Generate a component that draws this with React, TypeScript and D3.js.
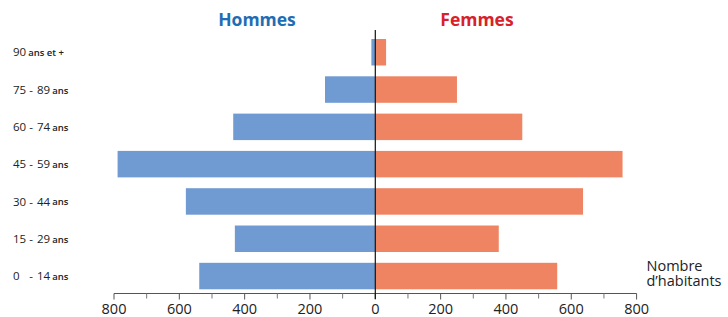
import React from "react";
import * as d3 from "d3";

const categories = ["90 ans et +", "75 - 89 ans", "60 - 74 ans", "45 - 59 ans", "30 - 44 ans", "15 - 29 ans", "0 - 14 ans"];
const labelFirst = ["90", "75", "60", "45", "30", "15", "0"];
const labelSecond = ["", "89", "74", "59", "44", "29", "14"];
const hommes = [12, 154, 435, 789, 580, 430, 539];
const femmes = [33, 250, 450, 757, 636, 378, 557];
const majorTicks = [-800, -600, -400, -200, 0, 200, 400, 600, 800];
const minorTicks = [-700, -500, -300, -100, 100, 300, 500, 700];

const W = 728;
const H = 317;
const FONT = "'Open Sans', 'Noto Sans', sans-serif";

export default function App() {
  const x = d3.scaleLinear().domain([-800, 800]).range([114, 636.6]);
  const y = d3
    .scaleBand<string>()
    .domain(categories)
    .range([33.6, 294.7])
    .paddingInner(0.29)
    .paddingOuter(0.145);
  const axisY = 293.5;
  const bw = y.bandwidth();

  return (
    <svg
      width={W}
      height={H}
      style={{ position: "absolute", left: 0, top: 0, background: "#fff" }}
      fontFamily={FONT}
    >
      <rect x={0} y={0} width={W} height={H} fill="#fff" />
      <text x={257} y={26} textAnchor="middle" fontSize={17.5} fontWeight={700} fill="#1f6db4">
        Hommes
      </text>
      <text x={477} y={26} textAnchor="middle" fontSize={17.5} fontWeight={700} fill="#d8212b">
        Femmes
      </text>

      {categories.map((c, i) => (
        <g key={c}>
          <rect
            x={x(-hommes[i])}
            y={y(c)}
            width={x(0) - x(-hommes[i])}
            height={bw}
            fill="#6f9bd2"
          />
          <rect x={x(0)} y={y(c)} width={x(femmes[i]) - x(0)} height={bw} fill="#ef8463" />
        </g>
      ))}

      {categories.map((c, i) => {
        const cy = (y(c) as number) + bw / 2 + 1;
        if (!labelSecond[i]) {
          return (
            <text key={c} x={13} y={cy} dominantBaseline="middle" fontSize={11.5} fill="#222">
              {labelFirst[i]}
              <tspan fontSize={9.5} dx={2} fontWeight={600}>ans et +</tspan>
            </text>
          );
        }
        return (
          <g key={c}>
            <text x={13} y={cy} dominantBaseline="middle" fontSize={11.5} fill="#222">
              {labelFirst[i]}
            </text>
            <text x={31} y={cy} dominantBaseline="middle" textAnchor="middle" fontSize={11.5} fill="#222">
              -
            </text>
            <text x={37} y={cy} dominantBaseline="middle" fontSize={11.5} fill="#222">
              {labelSecond[i]}
              <tspan fontSize={9.5} dx={2} fontWeight={600}>ans</tspan>
            </text>
          </g>
        );
      })}

      <line x1={x(-800)} x2={x(800)} y1={axisY} y2={axisY} stroke="#555" strokeWidth={1} />
      {majorTicks.map((t) => (
        <g key={"M" + t}>
          <line x1={x(t)} x2={x(t)} y1={axisY} y2={axisY + 6} stroke="#555" strokeWidth={1} />
          <text x={x(t)} y={314} textAnchor="middle" fontSize={14.5} fill="#222">
            {Math.abs(t)}
          </text>
        </g>
      ))}
      {minorTicks.map((t) => (
        <line key={"m" + t} x1={x(t)} x2={x(t)} y1={axisY} y2={axisY + 5} stroke="#777" strokeWidth={1} />
      ))}

      <line x1={x(0)} x2={x(0)} y1={30} y2={299} stroke="#111" strokeWidth={1.2} />

      <text x={646.5} y={270.5} fontSize={14.5} fill="#222">
        Nombre
      </text>
      <text x={646.5} y={286} fontSize={14.5} fill="#222">
        d’habitants
      </text>
    </svg>
  );
}
